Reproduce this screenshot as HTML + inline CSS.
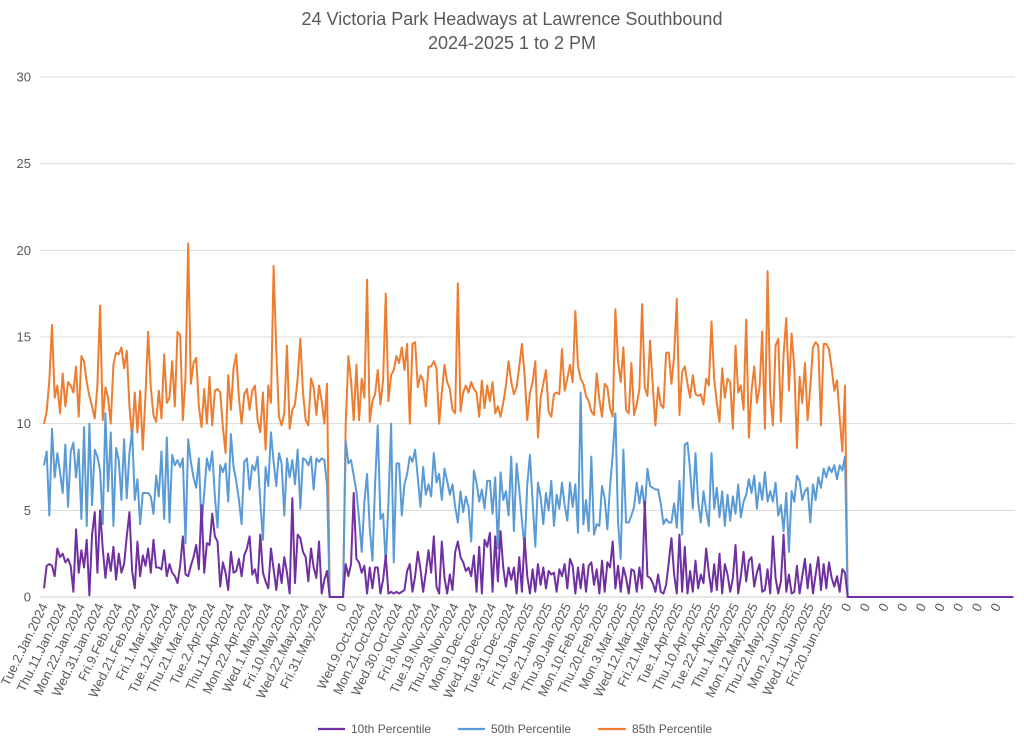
<!DOCTYPE html>
<html><head><meta charset="utf-8">
<style>
body{margin:0;background:#fff;}
svg text{font-family:"Liberation Sans",sans-serif;fill:#595959;}
</style></head>
<body>
<svg id="chart" width="1024" height="743" viewBox="0 0 1024 743" xmlns="http://www.w3.org/2000/svg">
<text x="512" y="25" text-anchor="middle" font-size="18">24 Victoria Park Headways at Lawrence Southbound</text>
<text x="512" y="49" text-anchor="middle" font-size="18">2024-2025 1 to 2 PM</text>
<g id="grid"></g><g id="yticks"></g><g id="xticks"></g><g id="series"></g>
<g>
<g><line x1="318" y1="729" x2="345" y2="729" stroke="#7030a0" stroke-width="2.2"/><text x="351" y="733" font-size="12">10th Percentile</text></g>
<g><line x1="458" y1="729" x2="485" y2="729" stroke="#5b9bd5" stroke-width="2.2"/><text x="491" y="733" font-size="12">50th Percentile</text></g>
<g><line x1="598" y1="729" x2="626" y2="729" stroke="#ed7d31" stroke-width="2.2"/><text x="632" y="733" font-size="12">85th Percentile</text></g>
</g>
</svg>
<script>
const tickLabels=["Tue.2.Jan.2024","Thu.11.Jan.2024","Mon.22.Jan.2024","Wed.31.Jan.2024","Fri.9.Feb.2024","Wed.21.Feb.2024","Fri.1.Mar.2024","Tue.12.Mar.2024","Thu.21.Mar.2024","Tue.2.Apr.2024","Thu.11.Apr.2024","Mon.22.Apr.2024","Wed.1.May.2024","Fri.10.May.2024","Wed.22.May.2024","Fri.31.May.2024","0","Wed.9.Oct.2024","Mon.21.Oct.2024","Wed.30.Oct.2024","Fri.8.Nov.2024","Tue.19.Nov.2024","Thu.28.Nov.2024","Mon.9.Dec.2024","Wed.18.Dec.2024","Tue.31.Dec.2024","Fri.10.Jan.2025","Tue.21.Jan.2025","Thu.30.Jan.2025","Mon.10.Feb.2025","Thu.20.Feb.2025","Mon.3.Mar.2025","Wed.12.Mar.2025","Fri.21.Mar.2025","Tue.1.Apr.2025","Thu.10.Apr.2025","Tue.22.Apr.2025","Thu.1.May.2025","Mon.12.May.2025","Thu.22.May.2025","Mon.2.Jun.2025","Wed.11.Jun.2025","Fri.20.Jun.2025","0","0","0","0","0","0","0","0","0"];
const yTicks=[0,5,10,15,20,25,30];
const gapZeros=[0,0,0,0,0,0];
const tailZeros=[0,0,0,0,0,0,0,0,0,0,0,0,0,0,0,0,0,0,0,0,0,0,0,0,0,0,0,0,0,0,0,0,0,0,0,0,0,0,0,0,0,0,0,0,0,0,0,0,0,0,0,0,0,0,0,0,0,0,0,0,0,0,0];
const p85_2024=[10,10.7,12.5,15.7,11.5,12.2,10.6,12.9,11,12.4,12.2,11.8,13.3,10.4,13.9,13.6,12.4,11.6,11,10.3,12.2,16.8,10.2,12.1,11.5,10,13.4,14.1,14,14.4,13.2,14.2,11,9.2,11.8,9.5,11.9,8.5,11.6,15.3,12.1,10.5,10.1,11.9,10.3,14,11.2,11.5,13.6,11,15.3,15.1,10.2,12.7,20.4,12.3,13.5,13.8,11,9.8,12,10,12.7,9.9,11.9,12,11.8,9.8,8.3,12.8,10.8,13.2,14,11.5,10,11.7,12,10.8,11.9,12.2,10.2,9.5,11.8,8.5,12.2,11.2,19.1,14.2,10.4,9.9,10.6,14.5,9.7,10.8,11.1,12.6,14.9,11.8,10.2,9.9,12.6,12.1,10.5,12.2,11.3,10,12.3];
const p50_2024=[7.6,8.4,4.7,9.7,6.9,8.3,7.2,6,8.8,5.2,8.4,8.9,6.9,8.5,4.5,9.8,4.1,10,5.3,8.5,8.1,7.3,4.2,10.6,6.1,9.5,4.1,8.6,7.9,5.6,9.1,5.7,8.3,9.6,5.6,6.8,4.2,6,6,6,5.8,4.8,7,5.8,8.4,4.5,9.2,4.3,8.2,7.6,7.9,7.5,8,3.1,9.1,7.8,6.9,6.3,8,4,6,8,7.3,8.4,5.8,4,7.6,7.2,7.7,5.5,9.4,7.5,6.7,5.6,4.2,7.8,8,6.2,7.6,7.3,8.1,5.5,3.3,7.5,6.4,9.5,7.8,6.4,8.3,7.7,4.7,8,6.9,7.9,6.5,8.5,5.1,8,7.9,7.6,8.1,6.2,8,7.8,8,7.9,6.5];
const p10_2024=[0.5,1.8,1.9,1.8,1.2,2.8,2.3,2.5,2,2.2,1.8,0.3,3.9,1.4,2.7,1.7,3.3,0.1,3.6,4.9,1.4,5,2.8,1.1,2.5,1.5,2.9,1,2.5,1.4,1.9,3.5,4.9,1.5,0.5,3.2,1.2,2.4,1.8,2.8,1.4,3.3,1.7,1.7,1.6,2.7,1.2,1.9,1.4,1.2,0.8,1.8,3.5,1.3,1.2,1.8,2.3,3,1.6,5.3,1.4,3.1,3,4.8,3.5,3.2,0.6,2,1.4,0.4,2.6,1.4,1.5,2.2,1.2,2.4,2.8,3.5,1.3,1.6,0.8,3.6,1.4,0.9,0.5,2.8,1.6,0.4,1.9,0.8,2.3,1.4,0.2,5.7,0.8,3.6,3.4,2.6,2.3,0.9,2.8,1.7,1.1,3.2,0.2,1,1.5];
const p85_2025=[10,13.9,12.5,10.2,13.4,10.2,12.6,11.5,18.3,10.1,11.3,11.7,13.1,11.1,12.5,17.5,11.3,12.8,13.1,13.9,13.5,14.4,13.1,14.6,10,14.6,14.7,12.1,12.8,12.5,11,13.3,13.3,13.6,13.2,10,11.8,13.4,12.4,12,10.8,10.6,18.1,10.7,11.8,12.2,11.8,12.4,12,11.8,10.4,12.5,10.9,12.2,11.3,12.4,10.6,11,10.4,11.2,12.2,13.6,12.4,11.7,12.1,13.3,14.6,12.8,10.2,11.8,12.4,13.6,9.2,11.5,12.3,13.1,10.7,10.4,11.7,11.8,11.7,14.3,11.9,12.6,13.4,12.4,16.5,13.3,12.6,12.3,11.6,11.3,10.7,10.5,12.9,11.4,10.4,12.3,12.1,10.9,10.4,16.6,13.6,12.4,14.4,10.8,10.6,13.5,10.5,11.1,12,16.9,12.1,11.6,14.8,12.2,9.9,12.1,11.1,10.9,14.1,14.1,12.3,13.9,17.2,10.5,13,13.3,12.3,11.5,12.8,11.7,11.6,11.7,11.1,12.6,12.2,15.9,12.6,11.2,10.1,13.2,11.5,12.6,12.4,9.7,14.5,11.8,12.2,10.8,16,9.2,11.9,13.3,11.2,12.1,15.3,9.7,18.8,11.7,9.9,14.5,14.9,10.1,14,16.1,11.9,15.2,13.3,8.6,12.7,11.2,13.5,10.2,12.1,14.4,14.7,14.5,9.9,14.6,14.6,14.3,13.2,11.9,12.5,10.4,8.4,12.2];
const p50_2025=[9,7.7,7.9,7,6.1,4.5,2.6,5.5,7.1,4,2.1,6.5,9.9,4.5,4.8,1.9,5.4,10,2,7.7,7.7,4.7,6.5,7.1,8.1,7.8,8.5,6.9,5.2,7.5,5.9,6.5,5.8,8.3,6.6,7.1,5.6,7.4,6.7,5.9,6.5,5.2,4.3,6.1,4.9,5.8,5.2,3.2,7.3,6.6,5.5,6.2,5.1,6.7,6.7,4.8,6.9,2.8,7.2,5.6,6.1,4.7,8.1,3.8,7.7,6.2,4.4,2.8,6.5,8.2,5.5,2.9,6.6,5.8,4.2,6,5,6.7,4.1,5.9,5.1,6.6,5.3,4.4,6.6,5.2,6.5,3.7,11.8,4.2,5.6,3.8,8.1,3.6,4.2,4.1,6.4,5.7,3.9,6.4,8.2,10.6,4.3,2.2,8.5,4.3,4.3,4.7,5.2,6.6,5.4,6.4,5,7.4,6.4,6.3,6.2,6.2,5.4,4.2,4.5,4.3,4.3,5.4,4,6.7,3.6,8.8,8.9,7.3,5.1,8.3,5.5,4.3,6.1,5,4.1,8.3,5.1,6.3,4.6,6.1,4.1,5.9,4.4,5.8,4.8,6.5,4.6,5.5,5.9,6.8,6,7,5.1,6.6,5.6,7.2,5.5,6.1,5.5,6.6,4.7,5.3,3.8,6,2.6,6.1,5.5,7,6.7,5.6,6.1,6.3,4.3,6.5,5.6,6.9,6.3,7.4,6.9,7.5,7.2,7.6,6.8,7.6,7.3,8.1];
const p10_2025=[1.9,1.2,1.9,6,2.2,2,1.4,1.8,0.2,1.7,0.5,1.7,1.7,0.2,1,2.4,0.2,0.3,0.2,0.3,0.2,0.3,0.4,1.5,1.9,0.3,1.2,2.6,1.6,0.3,1.4,2.7,1.4,3.5,0.6,0.2,3.2,1.1,0.2,1.3,0.4,2.6,3.2,2.3,2,1.5,1.7,1.2,2.4,0.3,2.9,0.2,3.3,2.9,3.7,0.3,3.5,0.9,3.8,1.7,0.6,1.7,1,1.7,0.2,2.3,0.3,3.4,1.2,0.2,1.6,0.3,1.9,0.7,1.7,0.5,1.5,1.3,1.4,0.3,1.6,1.2,1.9,0.5,2.2,1.8,0.2,1.7,0.5,1.9,0.3,1.8,2,0.7,1.6,0.2,2.1,0.3,2,1.7,3.2,0.5,1.8,0.3,1.7,1.1,0.2,1.6,1.5,0.3,1.7,0.5,5.5,1.2,1.1,0.8,0.3,1.3,0.3,0.2,0.7,2,3.4,1.3,0.2,3.6,0.3,2.9,0.2,1.5,0.3,2.1,0.5,1.3,0.8,2.8,1.4,0.3,1.9,0.4,2.5,0.2,1.9,1.3,0.3,1.1,3,0.2,1.2,2.6,0.9,2.1,2.3,0.6,1.4,1.9,0.3,0.4,1.6,0.2,3.5,1.1,0.2,0.9,3.6,0.3,1.3,0.2,0.3,1.8,0.2,1.2,2.2,0.5,1.9,0.2,1.3,2.3,0.4,1.9,0.5,2,1.1,0.6,1.2,0.3,1.6,1.4];

const p10=p10_2024.concat(gapZeros,p10_2025,tailZeros);
const p50=p50_2024.concat(gapZeros,p50_2025,tailZeros);
const p85=p85_2024.concat(gapZeros,p85_2025,tailZeros);

const NS="http://www.w3.org/2000/svg";
const X0=44, DX=2.67, Y0=597, YS=17.333;
function xScale(i){return X0+i*DX;}
function yScale(v){return Y0-v*YS;}
const grid=document.getElementById('grid'), yt=document.getElementById('yticks'), xt=document.getElementById('xticks'), sg=document.getElementById('series');
yTicks.forEach(v=>{
  const l=document.createElementNS(NS,'line');
  l.setAttribute('x1',40);l.setAttribute('x2',1015);
  l.setAttribute('y1',yScale(v));l.setAttribute('y2',yScale(v));
  l.setAttribute('stroke',v===0?'#d0d0d0':'#d9d9d9');l.setAttribute('stroke-width',1);
  
  
  grid.appendChild(l);
  const t=document.createElementNS(NS,'text');
  t.setAttribute('x',31);t.setAttribute('y',yScale(v)+4.5);t.setAttribute('text-anchor','end');t.setAttribute('font-size','13');
  t.textContent=v;
  
  
  yt.appendChild(t);
});
tickLabels.forEach((lab,i)=>{
  const x=xScale(i*7)+4, y=606;
  const t=document.createElementNS(NS,'text');
  t.setAttribute('x',x);t.setAttribute('y',y);t.setAttribute('text-anchor','end');t.setAttribute('font-size','13');
  t.setAttribute('transform','rotate(-64 '+x+' '+y+')');
  t.textContent=lab;
  
  
  xt.appendChild(t);
});
function drawLine(data,color,name){
  const pts=data.map((v,i)=>xScale(i).toFixed(2)+','+yScale(v).toFixed(2)).join(' ');
  const pl=document.createElementNS(NS,'polyline');
  pl.setAttribute('points',pts);pl.setAttribute('fill','none');pl.setAttribute('stroke',color);
  pl.setAttribute('stroke-width','2');pl.setAttribute('stroke-linejoin','round');
  
  
  sg.appendChild(pl);
}
drawLine(p85,'#ed7d31','series-85th-percentile');
drawLine(p50,'#5b9bd5','series-50th-percentile');
drawLine(p10,'#7030a0','series-10th-percentile');
</script>
</body></html>
